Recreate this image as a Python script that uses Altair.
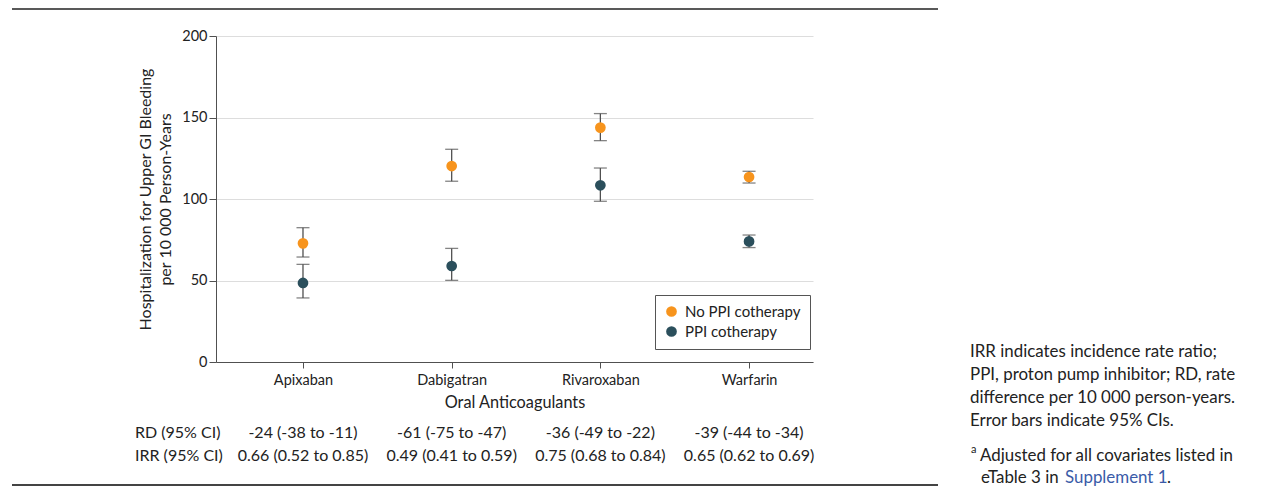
import json
import altair as alt
import pandas as pd

categories = ["Apixaban", "Dabigatran", "Rivaroxaban", "Warfarin"]
groups = ["No PPI cotherapy", "PPI cotherapy"]
no_ppi_rate = [72.8, 120.2, 143.8, 113.5]
no_ppi_lo = [64.4, 110.9, 135.8, 109.8]
no_ppi_hi = [82.4, 130.5, 152.4, 117.0]
ppi_rate = [48.5, 58.9, 108.4, 74.0]
ppi_lo = [39.3, 50.1, 98.6, 70.2]
ppi_hi = [59.9, 69.7, 119.0, 77.9]
rd_text = ["-24 (-38 to -11)", "-61 (-75 to -47)", "-36 (-49 to -22)", "-39 (-44 to -34)"]
irr_text = ["0.66 (0.52 to 0.85)", "0.49 (0.41 to 0.59)", "0.75 (0.68 to 0.84)", "0.65 (0.62 to 0.69)"]
y_ticks = [0, 50, 100, 150, 200]
note_lines = ["IRR indicates incidence rate ratio;",
              "PPI, proton pump inhibitor; RD, rate",
              "difference per 10 000 person-years.",
              "Error bars indicate 95% CIs."]

FONT = "Lato"
TXT = "#222222"
ORANGE = "#F7941D"
TEAL = "#2B4F5C"
BAR = "#505050"
TAB_FS = 16
NOTE_FS = 16.9

rows = []
for i, c in enumerate(categories):
    rows.append(dict(idx=i, cat=c, group=groups[0], rate=no_ppi_rate[i], lo=no_ppi_lo[i], hi=no_ppi_hi[i]))
    rows.append(dict(idx=i, cat=c, group=groups[1], rate=ppi_rate[i], lo=ppi_lo[i], hi=ppi_hi[i]))
df = pd.DataFrame(rows)
tab = pd.DataFrame(dict(idx=list(range(len(categories))), rd=rd_text, irr=irr_text))

label_expr = json.dumps(categories) + "[datum.value]"
xscale = alt.Scale(domain=[-0.585, 3.43], nice=False, zero=False)
xaxis = alt.Axis(values=list(range(len(categories))), labelExpr=label_expr, title="Oral Anticoagulants",
                 grid=False, tickSize=6, labelPadding=5, titlePadding=8, domainColor=BAR, tickColor=BAR,
                 titleFontSize=16.3)
yaxis = alt.Axis(values=y_ticks, title=["Hospitalization for Upper GI Bleeding", "per 10 000 Person-Years"],
                 grid=True, gridColor="#dddddd", tickSize=7, labelPadding=2, titlePadding=8,
                 domainColor=BAR, tickColor=BAR, titleLineHeight=20, titleFontSize=16)
X = alt.X("idx:Q", scale=xscale, axis=xaxis)
Y = alt.Y("rate:Q", scale=alt.Scale(domain=[0, 200], nice=False), axis=yaxis)

base = alt.Chart(df)
bars = base.mark_rule(color=BAR, strokeWidth=1.3).encode(x=X, y=alt.Y("lo:Q"), y2="hi:Q")
cap_lo = base.mark_tick(color=BAR, orient="horizontal", size=13, thickness=1.3).encode(x="idx:Q", y="lo:Q")
cap_hi = base.mark_tick(color=BAR, orient="horizontal", size=13, thickness=1.3).encode(x="idx:Q", y="hi:Q")
pts = base.mark_circle(size=115, opacity=1).encode(
    x="idx:Q", y=Y,
    color=alt.Color("group:N", scale=alt.Scale(domain=groups, range=[ORANGE, TEAL]),
                    legend=alt.Legend(title=None, orient="none", legendX=439, legendY=259,
                                      strokeColor="#555555", padding=9, labelFontSize=15,
                                      symbolSize=115, rowPadding=4, labelColor=TXT,
                                      labelFont=FONT, symbolOpacity=1, labelOffset=6))
)

tb = alt.Chart(tab)
rd = tb.mark_text(fontSize=TAB_FS, font=FONT, color=TXT, baseline="middle").encode(x="idx:Q", y=alt.value(397), text="rd:N")
irr = tb.mark_text(fontSize=TAB_FS, font=FONT, color=TXT, baseline="middle").encode(x="idx:Q", y=alt.value(420), text="irr:N")
rd_lab = alt.Chart(pd.DataFrame(dict(t=["RD (95% CI)"]))).mark_text(
    fontSize=TAB_FS, font=FONT, color=TXT, align="left", baseline="middle").encode(
    x=alt.value(-81), y=alt.value(397), text="t:N")
irr_lab = alt.Chart(pd.DataFrame(dict(t=["IRR (95% CI)"]))).mark_text(
    fontSize=TAB_FS, font=FONT, color=TXT, align="left", baseline="middle").encode(
    x=alt.value(-81), y=alt.value(420), text="t:N")

note = alt.Chart(pd.DataFrame(dict(t=[0]))).mark_text(
    fontSize=NOTE_FS, font=FONT, color=TXT, align="left", baseline="middle", lineHeight=23,
    text=note_lines).encode(x=alt.value(754), y=alt.value(316))
sup = alt.Chart(pd.DataFrame(dict(t=["a"]))).mark_text(
    fontSize=11, font=FONT, color=TXT, align="left", baseline="middle").encode(
    x=alt.value(755), y=alt.value(414), text="t:N")
fn1 = alt.Chart(pd.DataFrame(dict(t=["Adjusted for all covariates listed in"]))).mark_text(
    fontSize=NOTE_FS, font=FONT, color=TXT, align="left", baseline="middle").encode(
    x=alt.value(764), y=alt.value(420), text="t:N")
fn2 = alt.Chart(pd.DataFrame(dict(t=["eTable 3 in"]))).mark_text(
    fontSize=NOTE_FS, font=FONT, color=TXT, align="left", baseline="middle").encode(
    x=alt.value(765), y=alt.value(442), text="t:N")
fn3 = alt.Chart(pd.DataFrame(dict(t=["Supplement 1"]))).mark_text(
    fontSize=NOTE_FS, font=FONT, color="#3A5BA8", align="left", baseline="middle").encode(
    x=alt.value(849), y=alt.value(442), text="t:N")
fn4 = alt.Chart(pd.DataFrame(dict(t=["."]))).mark_text(
    fontSize=NOTE_FS, font=FONT, color=TXT, align="left", baseline="middle").encode(
    x=alt.value(951), y=alt.value(442), text="t:N")

top_line = alt.Chart(pd.DataFrame(dict(t=[0]))).mark_rule(color="#222222", strokeWidth=1.5).encode(
    x=alt.value(-204), x2=alt.value(722), y=alt.value(-27))
bot_line = alt.Chart(pd.DataFrame(dict(t=[0]))).mark_rule(color="#444444", strokeWidth=2).encode(
    x=alt.value(-204), x2=alt.value(722), y=alt.value(449))

chart = alt.layer(bars, cap_lo, cap_hi, pts, rd, irr, rd_lab, irr_lab, note, sup, fn1, fn2, fn3, fn4,
                  top_line, bot_line).properties(
    width=597, height=326,
    autosize=alt.AutoSizeParams(type="none"),
    padding={"left": 208, "top": 28, "right": 446, "bottom": 125},
).configure_view(stroke=None).configure_axis(
    labelFont=FONT, titleFont=FONT, labelFontSize=14.5, labelColor=TXT, titleColor=TXT,
    titleFontWeight="normal"
).configure_legend(labelFont=FONT)

chart.save("out.html", embed_options={"renderer": "svg", "actions": False})
